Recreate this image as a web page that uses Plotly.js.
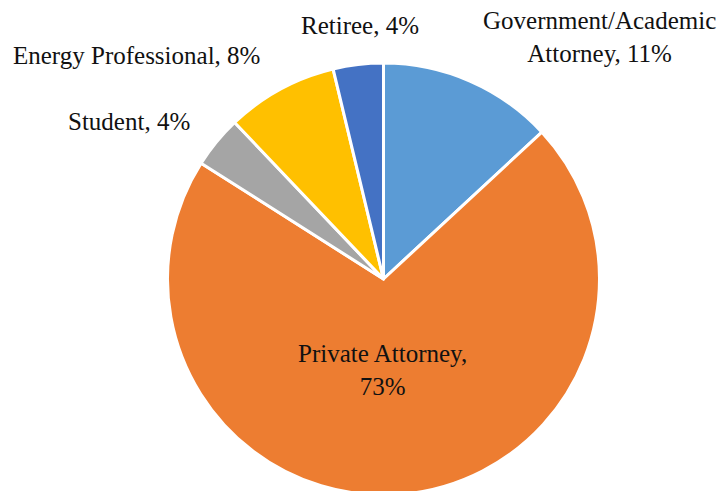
<!DOCTYPE html>
<html>
<head>
<meta charset="utf-8">
<script src="https://cdn.plot.ly/plotly-3.0.1.min.js"></script>
<style>
  html, body { margin: 0; padding: 0; background: #fff; overflow: hidden; }
  #chart { width: 726px; height: 497px; }
</style>
</head>
<body>
<div id="chart"></div>
<script>
// Categories in clockwise order from 12 o'clock
const categories = ["Government/Academic<br>Attorney", "Private Attorney", "Student", "Energy Professional", "Retiree"];
// Slice sizes as drawn in the picture (share of respondents)
const sliceValues = [13.1, 70.9, 3.9, 8.35, 3.75];
// Percent labels as printed on the chart
const percentLabels = ["11%", "73%", "4%", "8%", "4%"];
const colors = ["#5B9BD5", "#ED7D31", "#A5A5A5", "#FFC000", "#4472C4"];

const W = 726, H = 497;
// Label placement (pixel centres) and separators
const labelPos = [[599, 37], [383, 370], [129, 121], [136, 56], [360, 25]];
const labelSep = [", ", ",<br>", ", ", ", ", ", "];

const annotations = categories.map((c, i) => ({
  text: c + labelSep[i] + percentLabels[i],
  x: labelPos[i][0] / W, y: 1 - labelPos[i][1] / H,
  xref: 'paper', yref: 'paper',
  xanchor: 'center', yanchor: 'middle',
  showarrow: false, align: 'center',
  font: { family: 'Liberation Serif', size: 25, color: '#111' }
}));

const cx = 383.5, cy = 279, r = 216;
const trace = {
  type: 'pie',
  labels: categories,
  values: sliceValues,
  sort: false,
  direction: 'clockwise',
  rotation: 0,
  marker: { colors: colors, line: { color: '#ffffff', width: 3 } },
  textinfo: 'none',
  hoverinfo: 'label+percent',
  showlegend: false,
  domain: {
    x: [(cx - r) / W, (cx + r) / W],
    y: [(H - cy - r) / H, (H - cy + r) / H]
  }
};

Plotly.newPlot('chart', [trace], {
  width: W, height: H,
  margin: { l: 0, r: 0, t: 0, b: 0 },
  paper_bgcolor: '#ffffff',
  font: { family: 'Liberation Serif' },
  showlegend: false,
  annotations: annotations
}, { displayModeBar: false, staticPlot: true });
</script>
</body>
</html>
